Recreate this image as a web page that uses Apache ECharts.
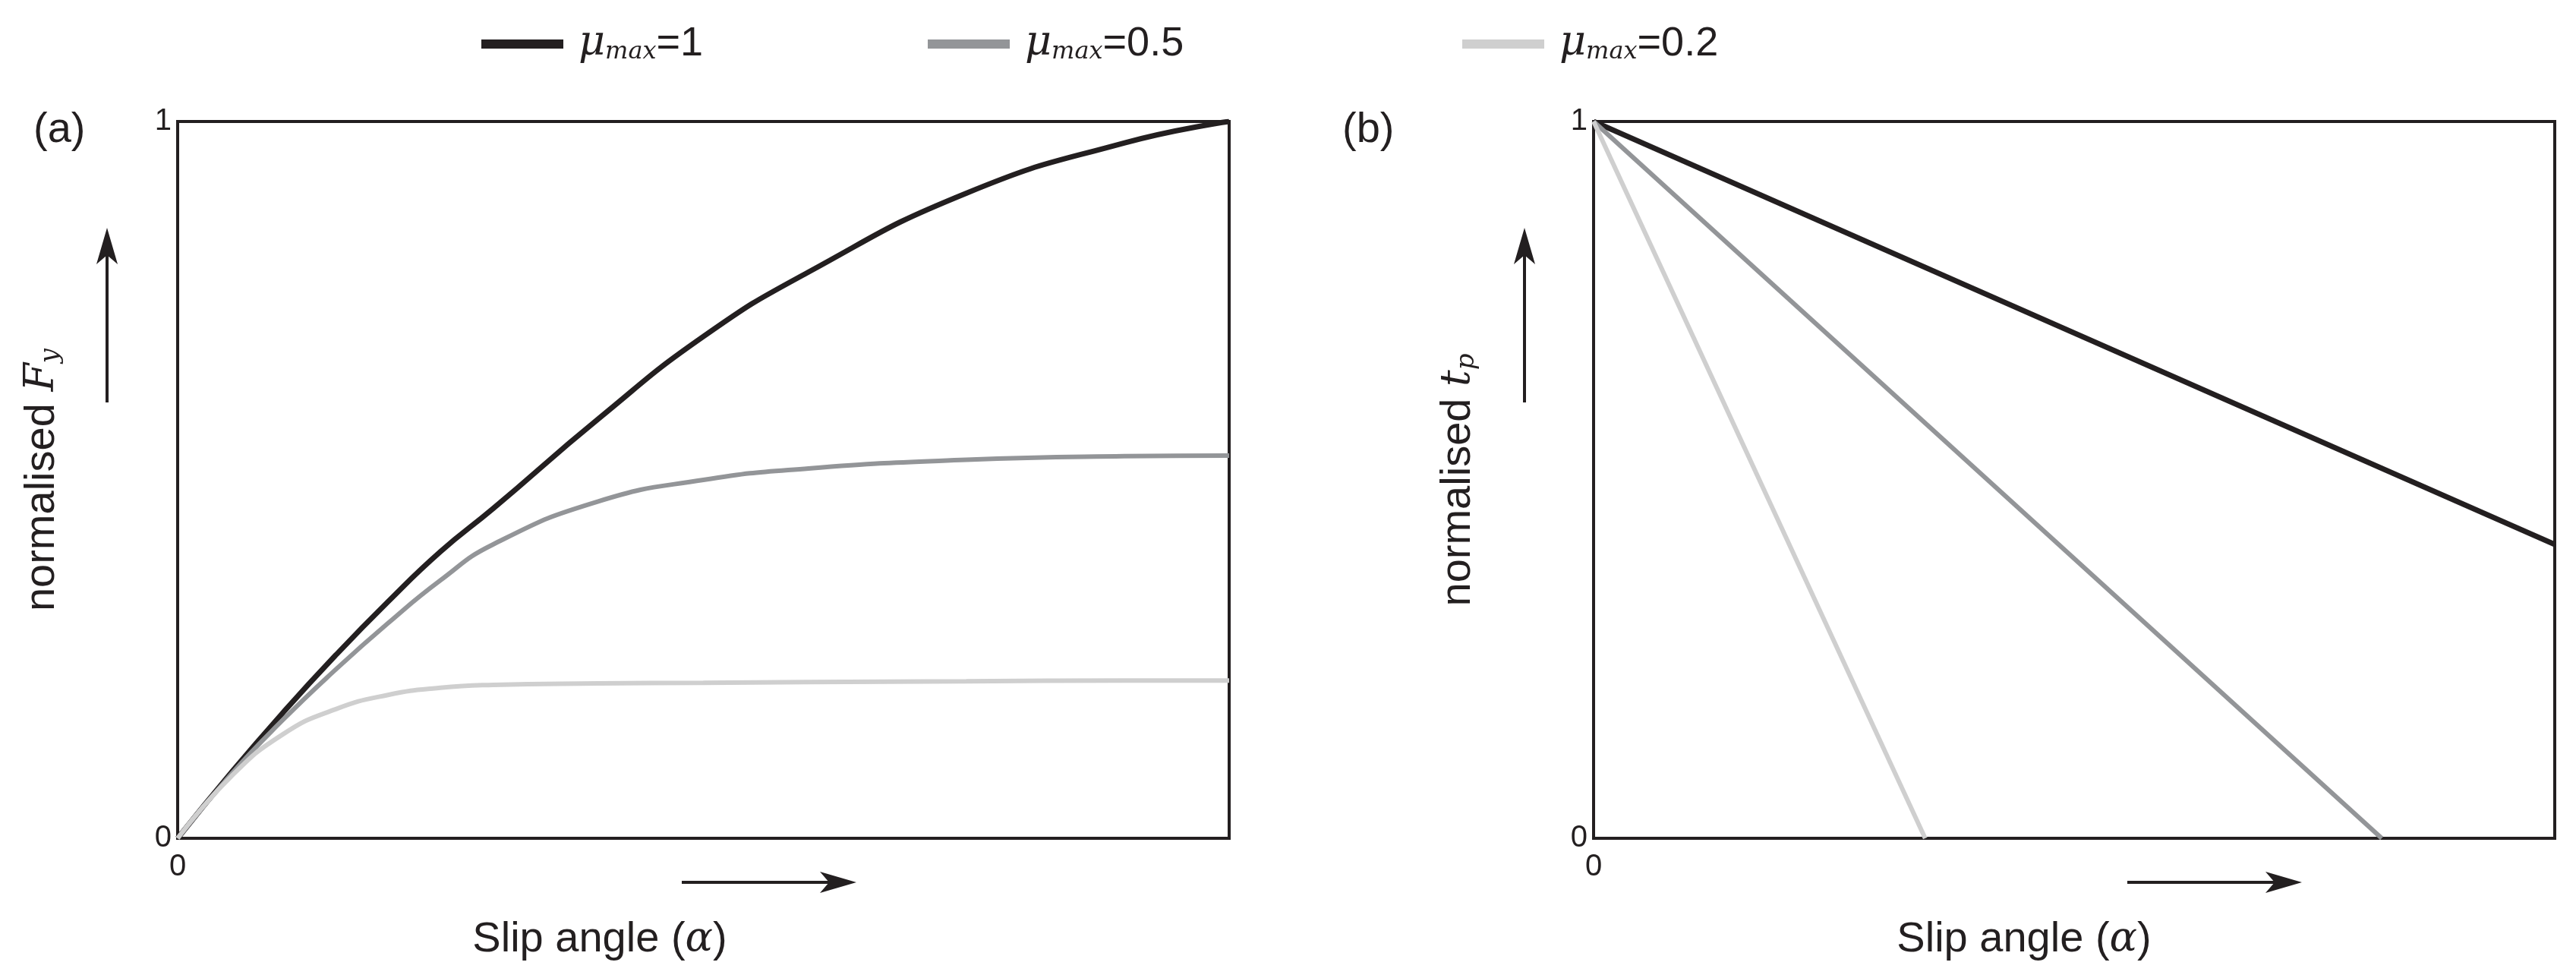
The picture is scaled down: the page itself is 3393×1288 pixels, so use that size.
<!DOCTYPE html>
<html>
<head>
<meta charset="utf-8">
<script src="https://cdn.jsdelivr.net/npm/echarts@6/dist/echarts.min.js"></script>
<style>html,body{margin:0;padding:0;background:#fff}#main{width:3393px;height:1288px}</style>
</head>
<body>
<div id="main"></div>
<script>
// panel (a): normalised Fy vs slip angle
var xA = [0, 0.05, 0.1, 0.15, 0.2, 0.25, 0.3, 0.4, 0.5, 0.6, 0.75, 0.9, 1];
var fyMu1  = [0, 0.09, 0.175, 0.255, 0.33, 0.40, 0.46, 0.585, 0.70, 0.79, 0.90, 0.97, 1];
var fyMu05 = [0, 0.088, 0.165, 0.235, 0.30, 0.36, 0.41, 0.47, 0.50, 0.516, 0.528, 0.533, 0.534];
var fyMu02 = [0, 0.085, 0.145, 0.18, 0.2, 0.21, 0.214, 0.216, 0.217, 0.218, 0.219, 0.22, 0.22];
// panel (b): normalised tp vs slip angle (linear)
var tpMu1  = [[0, 1], [1, 0.41]];
var tpMu05 = [[0, 1], [0.82, 0]];
var tpMu02 = [[0, 1], [0.345, 0]];

var names = ['mu1', 'mu05', 'mu02'];
var colors = ['#231f20', '#939598', '#cfcfcf'];
var font = 'Liberation Sans';

function pairs(xs, ys) { return xs.map(function (x, i) { return [x, ys[i]]; }); }

var chart = echarts.init(document.getElementById('main'));

function xAxisDef(idx) {
  return {
    type: 'value', gridIndex: idx, min: 0, max: 1, interval: 1,
    axisLine: { show: false }, axisTick: { show: false }, splitLine: { show: false },
    axisLabel: { fontFamily: font, fontSize: 40, color: '#231f20', margin: 18,
      formatter: function (v) { return v === 0 ? '0' : ''; } }
  };
}
function yAxisDef(idx, sym, sub) {
  return {
    type: 'value', gridIndex: idx, min: 0, max: 1, interval: 1,
    axisLine: { show: false }, axisTick: { show: false }, splitLine: { show: false },
    axisLabel: { fontFamily: font, fontSize: 40, color: '#231f20', margin: 8,
      verticalAlign: 'middle' },
    name: '{n|normalised }{v|' + sym + '}{s|' + sub + '}',
    nameLocation: 'middle', nameGap: 150,
    nameTextStyle: { rich: {
      n: { fontFamily: font, fontSize: 56, color: '#231f20' },
      v: { fontFamily: 'DejaVu Serif', fontStyle: 'italic', fontSize: 54, color: '#231f20' },
      s: { fontFamily: 'DejaVu Serif', fontStyle: 'italic', fontSize: 34, color: '#231f20', verticalAlign: 'bottom', padding: [14, 0, 0, 0] }
    } }
  };
}
function line(name, data, xi, color, w) {
  return { name: name, type: 'line', xAxisIndex: xi, yAxisIndex: xi, data: data,
    showSymbol: false, smooth: 0.5, lineStyle: { color: color, width: w }, itemStyle: { color: color } };
}
function arrowH(x1, x2, y) {
  return [
    { type: 'line', shape: { x1: x1, y1: y, x2: x2 - 30, y2: y }, style: { stroke: '#231f20', lineWidth: 4 } },
    { type: 'polygon', shape: { points: [[x2, y], [x2 - 48, y - 14], [x2 - 36, y], [x2 - 48, y + 14]] }, style: { fill: '#231f20' } }
  ];
}
function arrowV(x, y1, y2) {
  return [
    { type: 'line', shape: { x1: x, y1: y1, x2: x, y2: y2 + 30 }, style: { stroke: '#231f20', lineWidth: 4 } },
    { type: 'polygon', shape: { points: [[x, y2], [x - 14, y2 + 48], [x, y2 + 36], [x + 14, y2 + 48]] }, style: { fill: '#231f20' } }
  ];
}
function slipText(cx) {
  return { type: 'text', x: cx, y: 1238, style: {
    text: '{n|Slip angle (}{a|α}{n|)}', align: 'center', verticalAlign: 'middle',
    rich: { n: { fontFamily: font, fontSize: 56, fill: '#231f20' },
            a: { fontFamily: 'DejaVu Serif', fontStyle: 'italic', fontSize: 54, fill: '#231f20' } } } };
}
function legendItem(x, color, val) {
  return [
    { type: 'line', shape: { x1: x, y1: 58, x2: x + 108, y2: 58 }, style: { stroke: color, lineWidth: 12 } },
    { type: 'text', x: x + 128, y: 58, style: {
      text: '{m|μ}{s|max}{n|=' + val + '}', verticalAlign: 'middle',
      rich: { m: { fontFamily: 'DejaVu Serif', fontStyle: 'italic', fontSize: 54, fill: '#231f20' },
              s: { fontFamily: 'DejaVu Serif', fontStyle: 'italic', fontSize: 32, fill: '#231f20', verticalAlign: 'bottom', padding: [20, 0, 0, 0] },
              n: { fontFamily: font, fontSize: 54, fill: '#231f20' } } } }
  ];
}

var graphics = [].concat(
  legendItem(634, colors[0], '1'),
  legendItem(1222, colors[1], '0.5'),
  legendItem(1926, colors[2], '0.2'),
  arrowV(141, 530, 300), arrowV(2008, 530, 300),
  arrowH(898, 1128, 1162), arrowH(2802, 3032, 1162),
  [slipText(790), slipText(2666),
   { type: 'text', x: 44, y: 172, style: { text: '(a)', fontFamily: font, fontSize: 56, fill: '#231f20', verticalAlign: 'middle' } },
   { type: 'text', x: 1768, y: 172, style: { text: '(b)', fontFamily: font, fontSize: 56, fill: '#231f20', verticalAlign: 'middle' } }]
);

chart.setOption({
  animation: false,
  backgroundColor: '#fff',
  grid: [
    { left: 234, width: 1385, top: 160, height: 944, show: true, borderColor: '#231f20', borderWidth: 4, backgroundColor: 'transparent' },
    { left: 2099, width: 1266, top: 160, height: 944, show: true, borderColor: '#231f20', borderWidth: 4, backgroundColor: 'transparent' }
  ],
  xAxis: [xAxisDef(0), xAxisDef(1)],
  yAxis: [yAxisDef(0, 'F', 'y'), yAxisDef(1, 't', 'p')],
  series: [
    line(names[0], pairs(xA, fyMu1), 0, colors[0], 7),
    line(names[1], pairs(xA, fyMu05), 0, colors[1], 6),
    line(names[2], pairs(xA, fyMu02), 0, colors[2], 6),
    line(names[0], tpMu1, 1, colors[0], 7),
    line(names[1], tpMu05, 1, colors[1], 6),
    line(names[2], tpMu02, 1, colors[2], 6)
  ],
  graphic: graphics
});
</script>
</body>
</html>
